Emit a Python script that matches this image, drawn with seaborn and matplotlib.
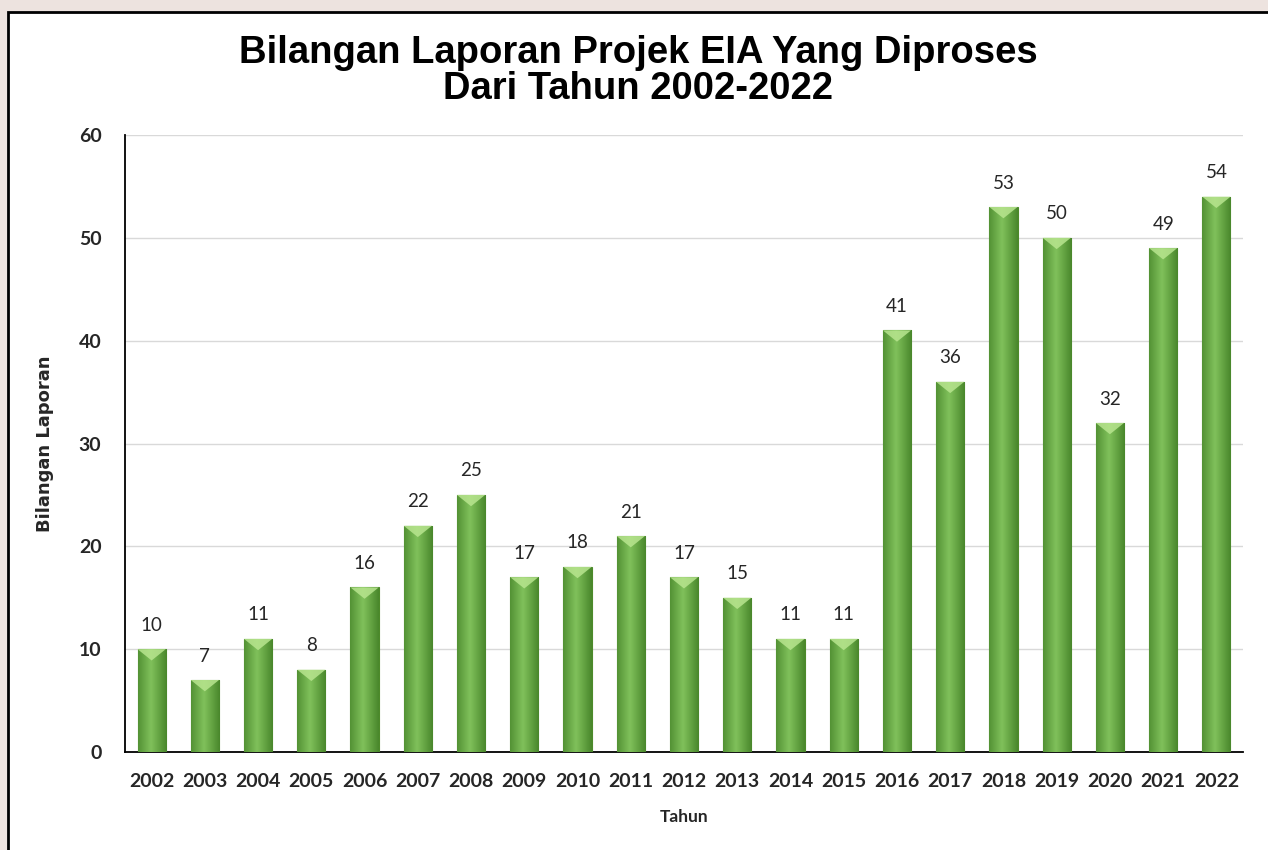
import matplotlib
matplotlib.use("Agg")
import matplotlib.pyplot as plt
import seaborn as sns
import numpy as np
import pandas as pd
from matplotlib.patches import Rectangle

# data
years = ['2002', '2003', '2004', '2005', '2006', '2007', '2008', '2009', '2010', '2011', '2012',
         '2013', '2014', '2015', '2016', '2017', '2018', '2019', '2020', '2021', '2022']
reports = [10, 7, 11, 8, 16, 22, 25, 17, 18, 21, 17, 15, 11, 11, 41, 36, 53, 50, 32, 49, 54]

df = pd.DataFrame({'Tahun': years, 'Bilangan Laporan': reports})

sns.set_style('white')
plt.rcParams['font.family'] = ['Lato', 'DejaVu Sans']

fig = plt.figure(figsize=(12.68, 8.5), dpi=100)
fig.patch.set_facecolor('#ede3df')
# white chart panel with black frame (only top/left edges visible)
fig.patches.append(Rectangle((8 / 1268, -0.1), 1.2, 1 - 12 / 850 + 0.1, transform=fig.transFigure,
                             facecolor='white', edgecolor='black', linewidth=2, zorder=-5))

ax = fig.add_axes([125 / 1268, 98 / 850, 1118 / 1268, 617 / 850])
ax.set_facecolor('none')
sns.barplot(data=df, x='Tahun', y='Bilangan Laporan', color='#6fae48', width=0.53,
            edgecolor='#4d8a2a', linewidth=0.8, ax=ax, zorder=3)

# horizontal gradient + top bevel on each bar
grad = np.linspace(0, 1, 64)
shade = 1 - 0.35 * np.abs(grad - 0.45) * 2
cmap = matplotlib.colors.LinearSegmentedColormap.from_list('g', ['#47852a', '#80c15b'])
for p in ax.patches:
    x0, y0, w, h = p.get_x(), p.get_y(), p.get_width(), p.get_height()
    im = ax.imshow(shade[np.newaxis, :], extent=[x0, x0 + w, y0, y0 + h], aspect='auto',
                   cmap=cmap, vmin=0.6, vmax=1, zorder=3.1, interpolation='bicubic')
    im.set_clip_path(p)
    bev = 1.1
    ax.fill([x0, x0 + w, x0 + w / 2], [h, h, h - bev], color='#b8e58f', alpha=0.85, zorder=3.2, lw=0)

for i, v in enumerate(reports):
    ax.text(i, v + 1.5, str(v), ha='center', va='bottom', fontsize=13.5, color='#262626')

ax.set_ylim(0, 60)
ax.set_xlim(-0.5, len(years) - 0.5)
ax.set_yticks(range(0, 61, 10))
ax.yaxis.grid(True, color='#d9d9d9', linewidth=1, zorder=0)
ax.set_axisbelow(True)
for s in ['top', 'right']:
    ax.spines[s].set_visible(False)
ax.spines['left'].set_color('black')
ax.spines['bottom'].set_color('black')
ax.spines['left'].set_linewidth(1.3)
ax.spines['bottom'].set_linewidth(1.3)
ax.tick_params(axis='both', length=0, labelsize=14, colors='#262626')
ax.tick_params(axis='x', pad=15)
ax.tick_params(axis='y', pad=17)
for lbl in ax.get_xticklabels() + ax.get_yticklabels():
    lbl.set_fontweight('bold')

ax.set_xlabel('Tahun', fontsize=12.5, fontweight='bold', labelpad=14)
ax.set_ylabel('Bilangan Laporan', fontsize=13, fontweight='bold', labelpad=18,
              family=['Liberation Sans Narrow', 'DejaVu Sans'])

fig.text(638 / 1268, 1 - 71 / 850, 'Bilangan Laporan Projek EIA Yang Diproses\nDari Tahun 2002-2022',
         ha='center', va='center', fontsize=27.5, fontweight='bold', linespacing=1.02, color='black',
         family=['Liberation Sans', 'DejaVu Sans'])

fig.savefig('out.png', dpi=100, facecolor=fig.get_facecolor())
